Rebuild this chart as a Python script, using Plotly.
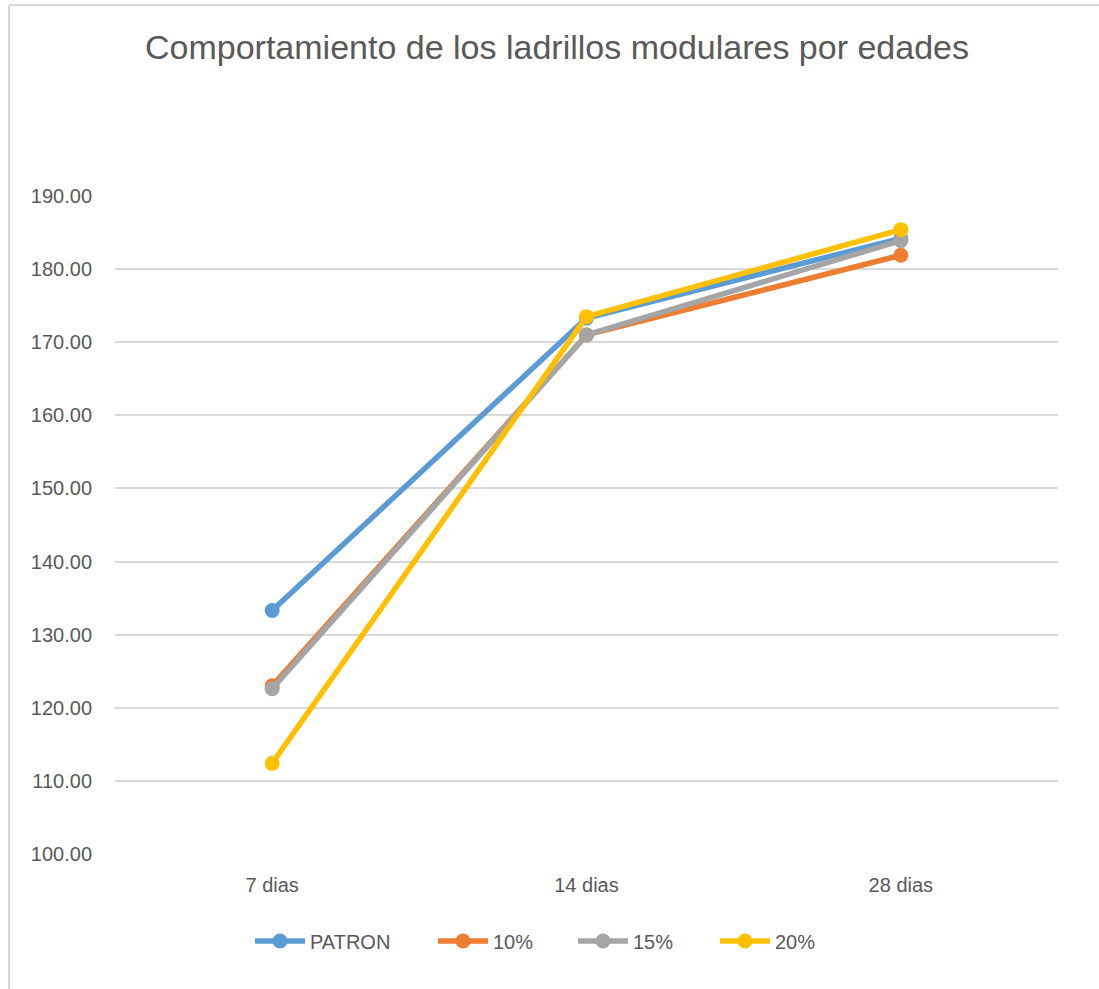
import plotly.graph_objects as go

# Ages of the bricks (categories on the x axis)
edades = ["7 dias", "14 dias", "28 dias"]

# Compressive behaviour per mix
patron = [133.3, 173.3, 184.2]
p10 = [123.0, 171.0, 181.9]
p15 = [122.6, 171.0, 183.9]
p20 = [112.4, 173.5, 185.4]

series = [
    ("PATRON", patron, "#5B9BD5"),
    ("10%", p10, "#ED7D31"),
    ("15%", p15, "#A5A5A5"),
    ("20%", p20, "#FFC000"),
]

W, H = 1099, 989
L, R, T, B = 115, 41, 196, 135
pw, ph = W - L - R, H - T - B

# Left pixel of each legend entry (one legend box per series)
legend_left_px = [250, 433, 573, 715]
legend_ids = ["legend", "legend2", "legend3", "legend4"]

font_col = "#595959"
font_fam = "Liberation Sans, Arial, sans-serif"

fig = go.Figure()
for (name, vals, col), lid in zip(series, legend_ids):
    fig.add_trace(go.Scatter(
        x=edades, y=vals, name=name, mode="lines+markers",
        line=dict(color=col, width=5.5),
        marker=dict(color=col, size=15),
        legend=lid,
    ))

# Light frame around the chart area (left and top edges visible)
fx0 = (9 - L) / pw
fx1 = (W - L) / pw
fy0 = (H - B - 5) / ph
fy1 = -B / ph
fig.add_shape(type="line", xref="paper", yref="paper",
              x0=fx0, x1=fx0, y0=fy0, y1=fy1, line=dict(color="#D9D9D9", width=2))
fig.add_shape(type="line", xref="paper", yref="paper",
              x0=fx0, x1=fx1, y0=fy0, y1=fy0, line=dict(color="#D9D9D9", width=2))

legend_y = -(941 - (H - B)) / ph
legends = {}
for lid, lx in zip(legend_ids, legend_left_px):
    legends[lid] = dict(
        orientation="h", x=(lx - L) / pw, xanchor="left",
        y=legend_y, yanchor="middle", itemwidth=50,
        font=dict(size=20, color=font_col, family=font_fam),
        bgcolor="rgba(0,0,0,0)", borderwidth=0,
    )

fig.update_layout(
    width=W, height=H,
    margin=dict(l=L, r=R, t=T, b=B),
    paper_bgcolor="white", plot_bgcolor="white",
    font=dict(family=font_fam, color=font_col, size=20),
    title=dict(text="Comportamiento de los ladrillos modulares por edades",
               x=557 / W, xanchor="center", y=1 - 47 / H, yanchor="middle",
               font=dict(size=34, color=font_col)),
    xaxis=dict(type="category", range=[-0.5, 2.5], showgrid=False,
               showline=False, ticks="", ticklabelstandoff=17,
               tickfont=dict(size=20, color=font_col)),
    yaxis=dict(range=[100, 190], tick0=100, dtick=10, tickformat=".2f",
               showgrid=True, gridcolor="#D9D9D9", gridwidth=2,
               zeroline=False, showline=False, ticks="",
               ticklabelstandoff=22,
               tickfont=dict(size=20, color=font_col)),
    showlegend=True,
    **legends,
)

fig.write_html("out.html")
